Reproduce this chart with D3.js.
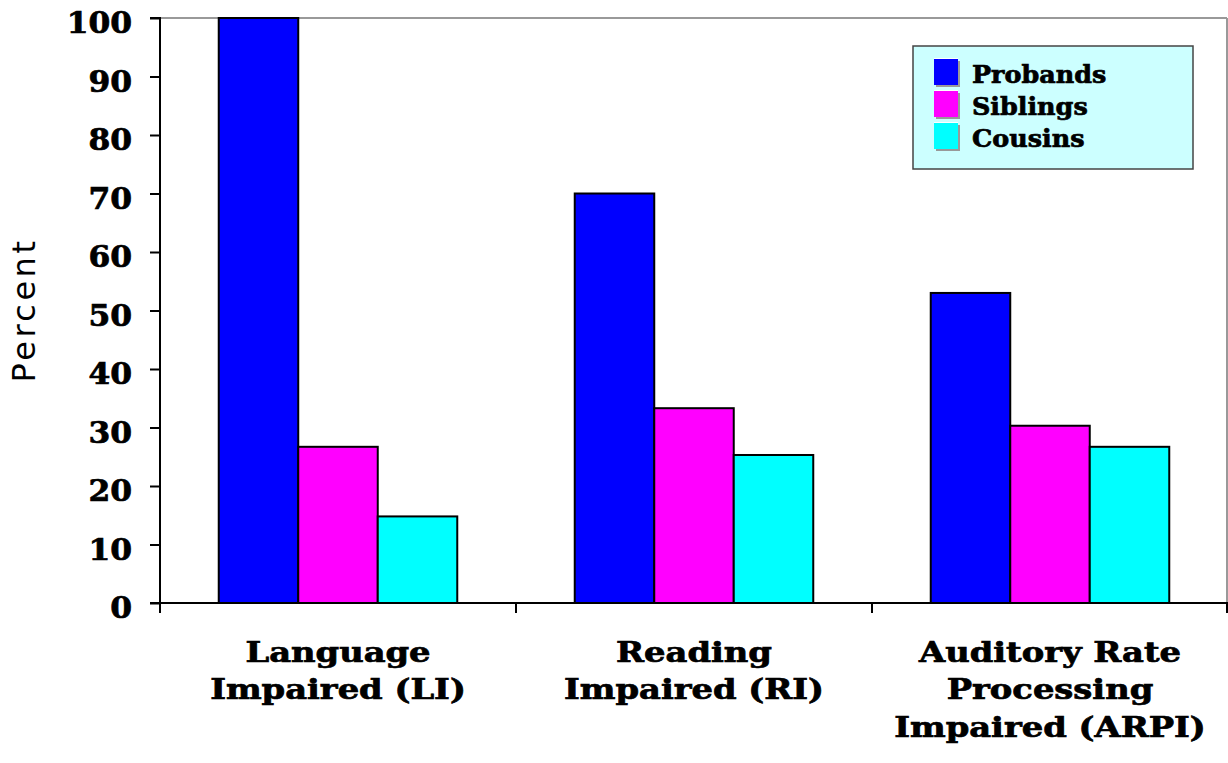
<!DOCTYPE html>
<html>
<head>
<meta charset="utf-8">
<script src="https://cdn.jsdelivr.net/npm/d3@7"></script>
<style>
  html, body { margin: 0; padding: 0; background: #fff; }
  svg { display: block; }
  .serif { font-family: "DejaVu Serif", "Liberation Serif", serif; font-weight: bold; fill: #000; stroke: #000; stroke-width: 0.7px; }
</style>
</head>
<body>
<svg id="chart" width="1228" height="763"></svg>
<script>
// Impairment rates by relationship to proband
const categories = ["Language Impaired (LI)", "Reading Impaired (RI)", "Auditory Rate Processing Impaired (ARPI)"];
const categoryLines = [
  ["Language", "Impaired (LI)"],
  ["Reading", "Impaired (RI)"],
  ["Auditory Rate", "Processing", "Impaired (ARPI)"]
];
const series = ["Probands", "Siblings", "Cousins"];
const probands = [100, 70, 53];
const siblings = [26.7, 33.3, 30.3];
const cousins = [14.8, 25.3, 26.7];
const yTicks = [0, 10, 20, 30, 40, 50, 60, 70, 80, 90, 100];
const colors = ["#0000ff", "#ff00ff", "#00ffff"];

const values = [probands, siblings, cousins];
const svg = d3.select("#chart");

const plot = { left: 160, right: 1228, top: 18, bottom: 603 };

const x = d3.scaleBand().domain(categories).range([plot.left, plot.right]).padding(0);
const xs = d3.scaleBand().domain(series).range([x.bandwidth() * 0.165, x.bandwidth() * 0.835]).padding(0);
const y = d3.scaleLinear().domain([0, 100]).range([plot.bottom, plot.top]);

// frame lines at top and right of the plot area
svg.append("line").attr("x1", plot.left).attr("x2", plot.right - 1)
  .attr("y1", plot.top).attr("y2", plot.top).attr("stroke", "#999").attr("stroke-width", 2);
svg.append("line").attr("x1", plot.right - 1).attr("x2", plot.right - 1)
  .attr("y1", plot.top).attr("y2", plot.bottom).attr("stroke", "#999").attr("stroke-width", 2);

// bars
const groups = svg.append("g").selectAll("g").data(categories).join("g")
  .attr("transform", d => `translate(${x(d)},0)`);
groups.selectAll("rect")
  .data((d, i) => series.map((s, j) => ({ s, j, v: values[j][i] })))
  .join("rect")
  .attr("x", d => xs(d.s))
  .attr("width", xs.bandwidth())
  .attr("y", d => y(d.v))
  .attr("height", d => y(0) - y(d.v))
  .attr("fill", d => colors[d.j])
  .attr("stroke", "#000")
  .attr("stroke-width", 2);

// y axis (labels slightly widened)
const yLabelScale = 1.08;
const yAxis = svg.append("g").attr("transform", `translate(${plot.left},0)`)
  .call(d3.axisLeft(y).tickValues(yTicks).tickSize(10).tickPadding(18));
yAxis.select(".domain").attr("stroke", "#000").attr("stroke-width", 2).attr("d", `M-10,${plot.top}H0V${plot.bottom + 1}`);
yAxis.selectAll(".tick line").attr("stroke", "#000").attr("stroke-width", 2);
yAxis.selectAll(".tick text").attr("class", "serif").style("font-size", "29px")
  .attr("x", -28 / yLabelScale).attr("dy", "0.5em")
  .attr("transform", `scale(${yLabelScale},1)`);

// x axis
const xAxis = svg.append("g").attr("transform", `translate(0,${plot.bottom})`);
xAxis.append("line").attr("x1", plot.left - 10).attr("x2", plot.right).attr("stroke", "#000").attr("stroke-width", 2);
const xTickPos = categories.map(c => x(c)).concat([plot.right - 1]);
xAxis.selectAll(".xt").data(xTickPos).join("line").attr("class", "xt")
  .attr("x1", d => d).attr("x2", d => d).attr("y1", 0).attr("y2", 10)
  .attr("stroke", "#000").attr("stroke-width", 2);

// category labels, centred under each group
const catScale = 1.25;
svg.append("g").selectAll("g").data(categories).join("g")
  .attr("transform", d => `translate(${x(d) + x.bandwidth() / 2},662) scale(${catScale},1)`)
  .append("text")
  .attr("class", "serif")
  .attr("text-anchor", "middle")
  .style("font-size", "27px")
  .each(function (d, i) {
    d3.select(this).selectAll("tspan").data(categoryLines[i]).join("tspan")
      .attr("x", 0)
      .attr("dy", (t, k) => k === 0 ? 0 : 37.5)
      .text(t => t);
  });

// y axis title
svg.append("text")
  .attr("transform", "translate(35,310) rotate(-90)")
  .attr("text-anchor", "middle")
  .style("font-family", "'DejaVu Sans', sans-serif")
  .style("font-size", "32px")
  .style("letter-spacing", "3.5px")
  .text("Percent");

// legend
const legend = svg.append("g");
legend.append("rect").attr("x", 913).attr("y", 46).attr("width", 280).attr("height", 123)
  .attr("fill", "#ccffff").attr("stroke", "#444").attr("stroke-width", 1.5);
const item = legend.selectAll(".item").data(series).join("g").attr("class", "item")
  .attr("transform", (d, i) => `translate(934,${59 + i * 32})`);
item.append("rect").attr("x", 2).attr("y", 2).attr("width", 24).attr("height", 26).attr("fill", "#999");
item.append("rect").attr("x", 0).attr("y", -1).attr("width", 24).attr("height", 1).attr("fill", "#fff");
item.append("rect").attr("x", 0).attr("y", 0).attr("width", 24).attr("height", 26).attr("fill", (d, i) => colors[i]);
item.append("text").attr("class", "serif")
  .attr("transform", "translate(38,24) scale(1.06,1)")
  .style("font-size", "24px").text(d => d);
</script>
</body>
</html>
